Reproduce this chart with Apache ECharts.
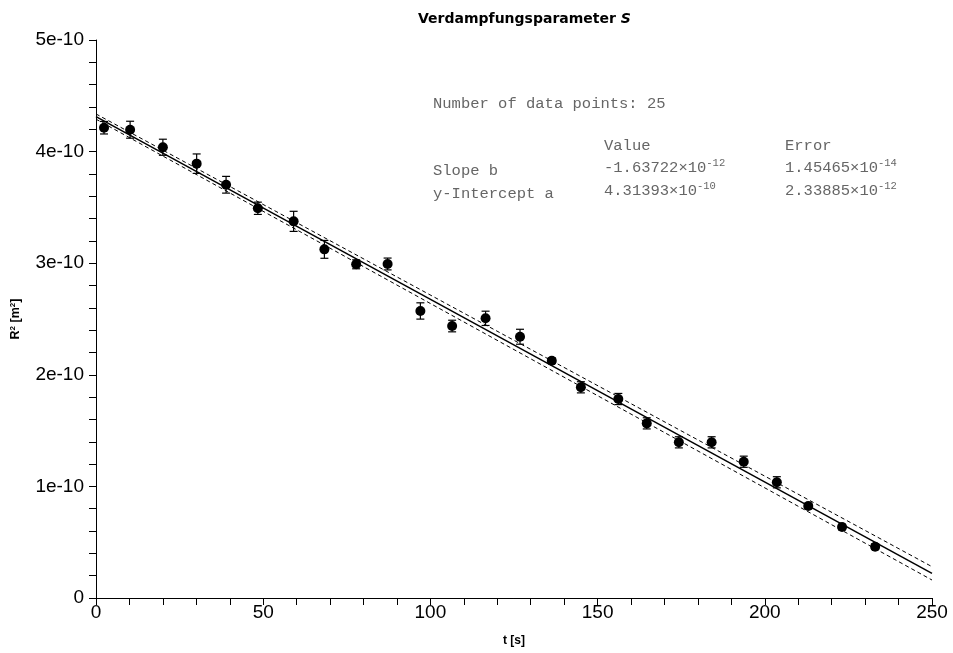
<!DOCTYPE html>
<html>
<head>
<meta charset="utf-8">
<script src="https://cdn.jsdelivr.net/npm/echarts@6/dist/echarts.min.js"></script>
<style>html,body{margin:0;padding:0;background:#fff;}#c{width:953px;height:653px;}</style>
</head>
<body>
<div id="c"></div>
<script>
// ---- data ----
var tVals = [2.4,10.2,20.0,30.1,38.9,48.4,59.1,68.3,77.8,87.2,97.0,106.5,116.5,126.8,136.3,145.0,156.2,164.7,174.3,184.1,193.7,203.6,213.0,223.1,233.0];
var r2Vals = [4.214e-10,4.196e-10,4.039e-10,3.892e-10,3.703e-10,3.492e-10,3.375e-10,3.124e-10,2.990e-10,2.993e-10,2.572e-10,2.437e-10,2.506e-10,2.341e-10,2.126e-10,1.888e-10,1.783e-10,1.565e-10,1.395e-10,1.395e-10,1.221e-10,1.037e-10,0.824e-10,0.636e-10,0.460e-10];
var errVals = [0.056e-10,0.076e-10,0.072e-10,0.087e-10,0.075e-10,0.055e-10,0.090e-10,0.080e-10,0.040e-10,0.053e-10,0.073e-10,0.052e-10,0.064e-10,0.067e-10,0.025e-10,0.050e-10,0.050e-10,0.050e-10,0.050e-10,0.050e-10,0.050e-10,0.050e-10,0.025e-10,0.025e-10,0.025e-10];
var fitT = [0, 250];
var fitY = [4.31393e-10, 0.22088e-10];
var upperY = [4.33732e-10, 0.28064e-10];
var lowerY = [4.29054e-10, 0.16112e-10];
var xTicks = [0, 50, 100, 150, 200, 250];
var yTicks = [0, 1, 2, 3, 4, 5]; // ×1e-10

var points = tVals.map(function (t, i) { return [t, r2Vals[i]]; });
var errData = tVals.map(function (t, i) { return [t, r2Vals[i] - errVals[i], r2Vals[i] + errVals[i]]; });
function pairs(xs, ys) { return xs.map(function (x, i) { return [x, ys[i]]; }); }

var chart = echarts.init(document.getElementById('c'), null, {renderer: 'canvas'});
var mono = '"Liberation Mono", "Courier New", monospace';
var sans = '"Liberation Sans", Arial, sans-serif';
var grey = '#666666';
var fs = 15.5;
function supRich() {
  return {
    n: {fontFamily: mono, fontSize: fs, fill: grey, color: grey},
    s: {fontFamily: mono, fontSize: 10.5, fill: grey, color: grey, verticalAlign: 'top', padding: [0, 0, 8, 0]}
  };
}
var option = {
  animation: false,
  backgroundColor: '#fff',
  title: {
    text: '{a|Verdampfungsparameter }{b|S}',
    left: 413, top: 7,
    textStyle: {
      rich: {
        a: {fontFamily: '"DejaVu Sans", sans-serif', fontWeight: 'bold', fontSize: 14, color: '#000'},
        b: {fontFamily: '"DejaVu Sans", sans-serif', fontWeight: 'bold', fontStyle: 'italic', fontSize: 14, color: '#000'}
      }
    }
  },
  grid: {left: 96, right: 21, top: 40, bottom: 55},
  xAxis: {
    type: 'value', min: 0, max: 250, interval: 50,
    name: '{a|t [s]}', nameLocation: 'middle', nameGap: 37,
    nameTextStyle: {rich: {a: {fontFamily: sans, fontWeight: 'bold', fontSize: 12, color: '#000'}}},
    axisLine: {show: true, onZero: false, lineStyle: {color: '#000', width: 1}},
    axisTick: {show: true, inside: false, length: 7, lineStyle: {color: '#000'}},
    minorTick: {show: true, splitNumber: 5, length: 7, lineStyle: {color: '#000'}},
    splitLine: {show: false},
    axisLabel: {
      fontFamily: sans, fontSize: 19, color: '#000', margin: 5,
      formatter: function (v) { return xTicks.indexOf(Math.round(v)) >= 0 ? String(Math.round(v)) : ''; }
    }
  },
  yAxis: {
    type: 'value', min: 0, max: 5e-10, interval: 1e-10,
    name: '{a|R}{s|2}{a| [m}{s|2}{a|]}', nameLocation: 'middle', nameGap: 73, nameRotate: 90,
    nameTextStyle: {rich: {
      a: {fontFamily: sans, fontWeight: 'bold', fontSize: 12.5, color: '#000'},
      s: {fontFamily: sans, fontWeight: 'bold', fontSize: 8, color: '#000', verticalAlign: 'top', padding: [0, 0, 6, 0]}
    }},
    axisLine: {show: true, onZero: false, lineStyle: {color: '#000', width: 1}},
    axisTick: {show: true, inside: false, length: 7, lineStyle: {color: '#000'}},
    minorTick: {show: true, splitNumber: 5, length: 7, lineStyle: {color: '#000'}},
    splitLine: {show: false},
    axisLabel: {
      fontFamily: sans, fontSize: 19, color: '#000', margin: 12,
      formatter: function (v) {
        var k = Math.round(v * 1e10);
        if (yTicks.indexOf(k) < 0) return '';
        return k === 0 ? '0' : k + 'e-10';
      }
    }
  },
  series: [
    {type: 'line', data: pairs(fitT, upperY), symbol: 'none', silent: true,
     lineStyle: {color: '#000', width: 1, type: [4, 3]}},
    {type: 'line', data: pairs(fitT, lowerY), symbol: 'none', silent: true,
     lineStyle: {color: '#000', width: 1, type: [4, 3]}},
    {type: 'line', data: pairs(fitT, fitY), symbol: 'none', silent: true,
     lineStyle: {color: '#000', width: 1.5}},
    {type: 'custom', data: errData, silent: true,
     renderItem: function (params, api) {
       var x = api.value(0);
       var lo = api.coord([x, api.value(1)]);
       var hi = api.coord([x, api.value(2)]);
       var w = 4;
       var st = {stroke: '#000', lineWidth: 1.2};
       return {type: 'group', children: [
         {type: 'line', shape: {x1: lo[0], y1: lo[1], x2: hi[0], y2: hi[1]}, style: st},
         {type: 'line', shape: {x1: lo[0] - w, y1: lo[1], x2: lo[0] + w, y2: lo[1]}, style: st},
         {type: 'line', shape: {x1: hi[0] - w, y1: hi[1], x2: hi[0] + w, y2: hi[1]}, style: st}
       ]};
     }, z: 3},
    {type: 'scatter', data: points, symbol: 'circle', symbolSize: 10,
     itemStyle: {color: '#000', opacity: 1}, z: 4}
  ],
  graphic: [
    {type: 'text', left: 433, top: 96, style: {text: 'Number of data points: 25', font: fs + 'px ' + mono, fill: grey}},
    {type: 'text', left: 604, top: 138, style: {text: 'Value', font: fs + 'px ' + mono, fill: grey}},
    {type: 'text', left: 785, top: 138, style: {text: 'Error', font: fs + 'px ' + mono, fill: grey}},
    {type: 'text', left: 433, top: 163, style: {text: 'Slope b', font: fs + 'px ' + mono, fill: grey}},
    {type: 'text', left: 433, top: 186, style: {text: 'y-Intercept a', font: fs + 'px ' + mono, fill: grey}},
    {type: 'text', left: 604, top: 158, style: {text: '{n|-1.63722×10}{s|-12}', rich: supRich()}},
    {type: 'text', left: 785, top: 158, style: {text: '{n|1.45465×10}{s|-14}', rich: supRich()}},
    {type: 'text', left: 604, top: 181, style: {text: '{n|4.31393×10}{s|-10}', rich: supRich()}},
    {type: 'text', left: 785, top: 181, style: {text: '{n|2.33885×10}{s|-12}', rich: supRich()}}
  ]
};
chart.setOption(option);
</script>
</body>
</html>
